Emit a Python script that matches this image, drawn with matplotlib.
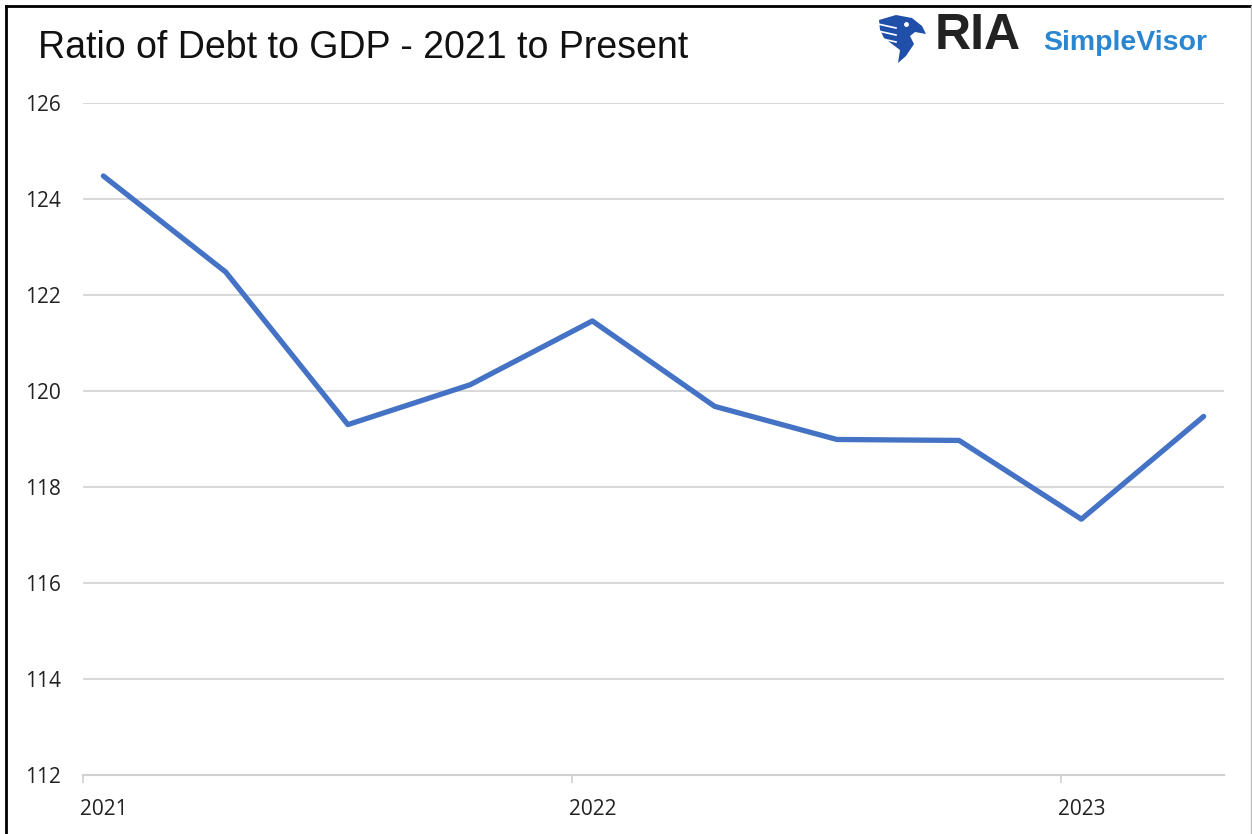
import matplotlib.pyplot as plt
from matplotlib.patches import Polygon
from matplotlib.lines import Line2D

# data: quarterly debt / GDP ratio, Q1 2021 .. Q2 2023
quarters = ["2021Q1", "2021Q2", "2021Q3", "2021Q4", "2022Q1", "2022Q2",
            "2022Q3", "2022Q4", "2023Q1", "2023Q2"]
debt_gdp = [124.48, 122.48, 119.30, 120.13, 121.46, 119.68, 118.99, 118.97, 117.33, 119.47]
year_labels = ["2021", "2022", "2023"]
y_ticks = [112, 114, 116, 118, 120, 122, 124, 126]

# month axis: each quarter sits in the middle of its first month
month_pos = [3 * i + 0.5 for i in range(len(quarters))]
year_ticks = [0, 12, 24]

fig = plt.figure(figsize=(12.52, 8.34), dpi=100)
W, H = 1252.0, 834.0

# rect: [L, D, W, H]
ax = fig.add_axes([83 / W, 1 - 775 / H, (1224 - 83) / W, (775 - 103) / H])
ax.plot(month_pos, debt_gdp, color="#4472C4", linewidth=3.8,
        solid_capstyle="round", solid_joinstyle="round", zorder=3)

ax.set_xlim(0, 28)
ax.set_ylim(112, 126)
ax.set_yticks(y_ticks)
ax.set_yticklabels([str(v) for v in y_ticks], fontsize=15, family="Open Sans", color="#222222")
ax.tick_params(axis="y", length=0, pad=16)
ax.grid(axis="y", color="#d9d9d9", linewidth=1.5)
ax.set_axisbelow(True)

# year ticks (marks only) + labels centred on first data point of each year
ax.set_xticks(year_ticks)
ax.set_xticklabels([])
ax.tick_params(axis="x", which="major", length=6, width=1.2, color="#d0d0d0", direction="out")
ax.set_xticks([0.5, 12.5, 24.5], minor=True)
ax.set_xticklabels(year_labels, minor=True, fontsize=15, family="Open Sans", color="#222222")
ax.tick_params(axis="x", which="minor", length=0, pad=17)

for s in ["top", "right", "left"]:
    ax.spines[s].set_visible(False)
ax.spines["bottom"].set_color("#d0d0d0")
ax.spines["bottom"].set_linewidth(1.5)

# title
fig.text(38 / W, 1 - 48 / H, "Ratio of Debt to GDP - 2021 to Present", fontsize=27,
         family="Liberation Sans", color="#111111", ha="left", va="center")

# logo: simple eagle head + text
eagle = [(879, 20), (896, 15), (912, 18), (922, 26), (926, 34), (915, 32),
         (910, 36), (914, 44), (906, 56), (898, 63), (900, 50), (892, 44),
         (884, 38), (880, 30)]
fig.patches.append(Polygon([(x / W, 1 - y / H) for x, y in eagle], closed=True,
                           transform=fig.transFigure, facecolor="#1f4fa8",
                           edgecolor="none"))
for yy in (24, 31, 38):
    fig.lines.append(Line2D([878 / W, 896 / W], [1 - yy / H, 1 - (yy + 4) / H],
                            transform=fig.transFigure, color="white", linewidth=1.2))
fig.lines.append(Line2D([906 / W], [1 - 24 / H], transform=fig.transFigure,
                        marker="o", markersize=2.5, color="white", linestyle="none"))

fig.text(935 / W, 1 - 36 / H, "RIA", fontsize=36, family="Liberation Sans",
         weight="bold", color="#222222", ha="left", va="center")
fig.text(1043 / W, 1 - 43 / H, "SimpleVisor", fontsize=20.5, family="Liberation Sans",
         weight="bold", color="#2a86d1", ha="left", va="center")

# frame around the picture
fig.lines.append(Line2D([6 / W, 6 / W], [0, 1 - 6 / H], transform=fig.transFigure,
                        color="black", linewidth=2))
fig.lines.append(Line2D([6 / W, 1], [1 - 6 / H, 1 - 6 / H], transform=fig.transFigure,
                        color="black", linewidth=2))
fig.lines.append(Line2D([1250.5 / W, 1250.5 / W], [0, 1 - 6 / H], transform=fig.transFigure,
                        color="#bbbbbb", linewidth=1))

fig.savefig("out.png", dpi=100)
plt.close()
